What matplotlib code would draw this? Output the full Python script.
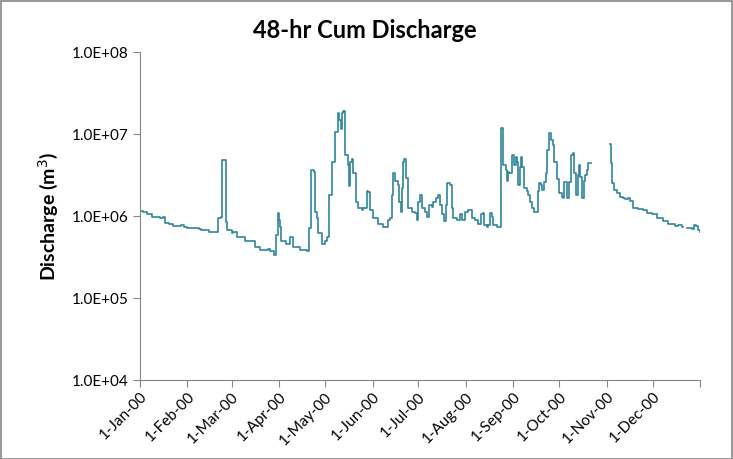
import numpy as np
import matplotlib
matplotlib.use("Agg")
import matplotlib.pyplot as plt
import matplotlib.dates as mdates
from datetime import datetime
from matplotlib.patches import Rectangle

# Data: day offset from 1-Jan-2000, 48-hr cumulative discharge (m3)
days = [0, 2, 4.3, 7.6, 13, 14.8, 16.3, 19, 21.8, 27, 28.5, 30.5, 37, 38.5, 40, 45.3,
        50, 51, 52.7, 53.4, 55.9, 56.6, 60, 61, 63.2, 68.6, 75, 78.4, 83.9, 85, 87.6,
        88.9, 90, 90.8, 91.5, 92.3, 95.4, 98, 100.2, 104.6, 109, 110.5, 111.5, 113.9,
        114.4, 115.5, 116.6, 118.8, 121, 122, 123.5, 125.3, 127.5, 129.2, 130, 131.2,
        132.2, 132.9, 134, 135.7, 136.6, 137.3, 138.4, 139.4, 141, 142.7, 145, 146,
        148.2, 149.2, 150.3, 152.5, 155.8, 159, 161.2, 162.3, 163.4, 164.5, 165.6,
        166.7, 168.5, 169.3, 170.4, 171.1, 172.1, 172.8, 173.9, 175.4, 177.6, 179.7,
        180.8, 181.9, 183, 184.1, 186.3, 187.4, 188.9, 190.6, 191.7, 193.3, 194.6,
        196, 197.2, 198.9, 199.8, 200.9, 202.6, 203.7, 204.8, 207, 209.2, 210.7,
        212.4, 214.2, 215.7, 216.7, 219, 221, 222.9, 224, 225, 226.6, 227.6, 228.8,
        229.9, 230.9, 233.1, 235.3, 236, 236.8, 237.5, 239, 239.7, 240.3, 241.4,
        242.9, 244.4, 245.8, 246.6, 247.3, 248.2, 249.1, 249.9, 251.2, 252.8, 253.9,
        255, 256.1, 257.8, 259.3, 260.4, 261.1, 262.2, 263, 264.2, 265.3, 266.3,
        267.5, 268.5, 269.6, 270.9, 272.5, 274, 275.7, 276.5, 277.2, 278.9, 279.4,
        280.5, 281.6, 282.7, 283.8, 284.9, 286, 287.1, 287.8, 288.9, 290, 291.1, 292,
        293.1, 294.4, 295, 307, 307.8, 308.7, 310, 311.5, 313.7, 315.8, 317, 319,
        320.3, 322.5, 325.6, 329, 331.2, 334.4, 337.7, 342, 345.3, 349.7, 351.8, 354,
        355, 357.3, 360.5, 362, 363.4, 364.5, 366]
discharge = [1.15e6, 1.12e6, 1.05e6, 9.8e5, 9.4e5, 9.6e5, 8.3e5, 8.0e5, 7.6e5, 7.7e5,
             7.4e5, 7.2e5, 7.1e5, 6.9e5, 6.7e5, 6.4e5,
             6.4e5, 9.4e5, 9.8e5, 4.8e6, 8.5e5, 6.7e5, 6.2e5, 6.3e5, 5.6e5, 4.9e5,
             4.2e5, 3.85e5, 3.95e5, 3.7e5, 3.3e5,
             5.9e5, 1.08e6, 8.9e5, 7.4e5, 4.9e5, 4.6e5, 5.6e5, 4.2e5, 3.85e5, 3.7e5,
             7.1e5, 3.6e6, 3.4e6,
             1.12e6, 9.4e5, 6.2e5, 4.6e5, 4.9e5, 5.6e5, 1.8e6, 4.6e6, 1.07e7, 1.8e7,
             1.48e7, 1.15e7,
             1.8e7, 1.9e7, 5.5e6, 4.2e6, 2.3e6, 4.6e6, 5.0e6, 3.3e6, 1.5e6, 1.24e6,
             1.2e6, 1.24e6,
             2.0e6, 1.95e6, 1.2e6, 9.4e5, 8.1e5, 7.4e5, 7.4e5, 8.9e5, 9.4e5, 1.8e6,
             3.3e6,
             2.7e6, 2.4e6, 1.5e6, 1.12e6, 2.2e6, 4.6e6, 5.0e6, 2.9e6, 1.24e6, 1.12e6,
             1.08e6,
             8.9e5, 1.5e6, 1.8e6, 1.24e6, 1.12e6, 9.8e5, 1.37e6, 1.3e6, 1.5e6, 1.65e6,
             1.8e6,
             1.37e6, 1.05e6, 8.7e5, 1.37e6, 2.5e6, 2.4e6, 1.24e6, 9.4e5, 8.9e5, 1.05e6,
             8.9e5,
             1.12e6, 1.2e6, 1.2e6, 9.4e5, 8.9e5, 8.1e5, 1.05e6, 1.08e6, 7.8e5, 7.4e5,
             7.8e5, 1.08e6,
             9.8e5, 7.8e5, 7.4e5, 7.4e5, 1.18e7, 1.18e7, 4.2e6, 3.6e6, 2.7e6, 3.4e6,
             3.3e6,
             5.5e6, 4.2e6, 5.3e6, 4.6e6, 2.4e6, 4.0e6, 5.3e6, 4.0e6, 2.2e6, 2.0e6,
             1.8e6,
             1.5e6, 1.24e6, 1.12e6, 1.12e6, 2.0e6, 2.5e6, 2.4e6, 2.1e6, 2.6e6, 3.3e6,
             6.4e6,
             1.02e7, 8.4e6, 7.3e6, 4.6e6, 2.8e6, 1.9e6, 1.7e6, 1.65e6, 2.6e6, 2.5e6,
             1.65e6,
             2.6e6, 5.5e6, 5.8e6, 3.3e6, 1.8e6, 3.2e6, 4.2e6, 3.0e6, 1.65e6, 2.7e6,
             3.2e6, 3.6e6,
             4.4e6, 4.4e6, np.nan, 7.5e6, 4.4e6, 2.5e6, 2.1e6, 1.9e6, 1.7e6, 1.65e6,
             1.62e6, 1.65e6,
             1.53e6, 1.24e6, 1.22e6, 1.2e6, 1.1e6, 1.05e6, 9.5e5, 8.7e5, 8.1e5, 7.6e5,
             7.8e5, 7.3e5,
             np.nan, 7.1e5, 7.0e5, 7.8e5, 7.6e5, 6.7e5, 6.3e5]

month_labels = ['1-Jan-00', '1-Feb-00', '1-Mar-00', '1-Apr-00', '1-May-00', '1-Jun-00',
                '1-Jul-00', '1-Aug-00', '1-Sep-00', '1-Oct-00', '1-Nov-00', '1-Dec-00', '']
y_ticks = [1e4, 1e5, 1e6, 1e7, 1e8]
y_labels = ['1.0E+04', '1.0E+05', '1.0E+06', '1.0E+07', '1.0E+08']

plt.rcParams['font.family'] = ['Lato', 'DejaVu Sans']

start = mdates.date2num(datetime(2000, 1, 1))
x = start + np.array(days)

fig = plt.figure(figsize=(7.33, 4.59), dpi=100)
ax = fig.add_axes([140 / 733, 1 - 380 / 459, 560 / 733, 328 / 459])

ax.plot(x, discharge, color='#31859C', linewidth=1.2, drawstyle='steps-post')

ax.set_yscale('log')
ax.set_ylim(1e4, 1e8)
ax.set_yticks(y_ticks)
ax.set_yticklabels(y_labels)
ax.yaxis.set_minor_locator(matplotlib.ticker.NullLocator())

month_ticks = [mdates.date2num(datetime(2000, m, 1)) for m in range(1, 13)]
month_ticks.append(mdates.date2num(datetime(2001, 1, 1)))
ax.set_xlim(month_ticks[0], month_ticks[-1])
ax.set_xticks(month_ticks)
ax.set_xticklabels(month_labels, rotation=45, ha='right', rotation_mode='anchor')

for side in ['top', 'right']:
    ax.spines[side].set_visible(False)
for side in ['left', 'bottom']:
    ax.spines[side].set_color('#868686')
ax.tick_params(axis='both', colors='#868686', labelcolor='black', labelsize=11,
               length=5, direction='out')
ax.tick_params(axis='x', pad=2)

ax.set_ylabel('Discharge (m$^3$)', fontsize=14, fontweight='bold', labelpad=8)
fig.text(365 / 733, 1 - 30 / 459, '48-hr Cum Discharge', fontsize=17,
         fontweight='bold', ha='center', va='center')

# chart border
fig.patches.append(Rectangle((0.001, 0.001), 0.998, 0.997, transform=fig.transFigure,
                             fill=False, edgecolor='#868686', linewidth=1.2))

fig.savefig('out.png', dpi=100)
